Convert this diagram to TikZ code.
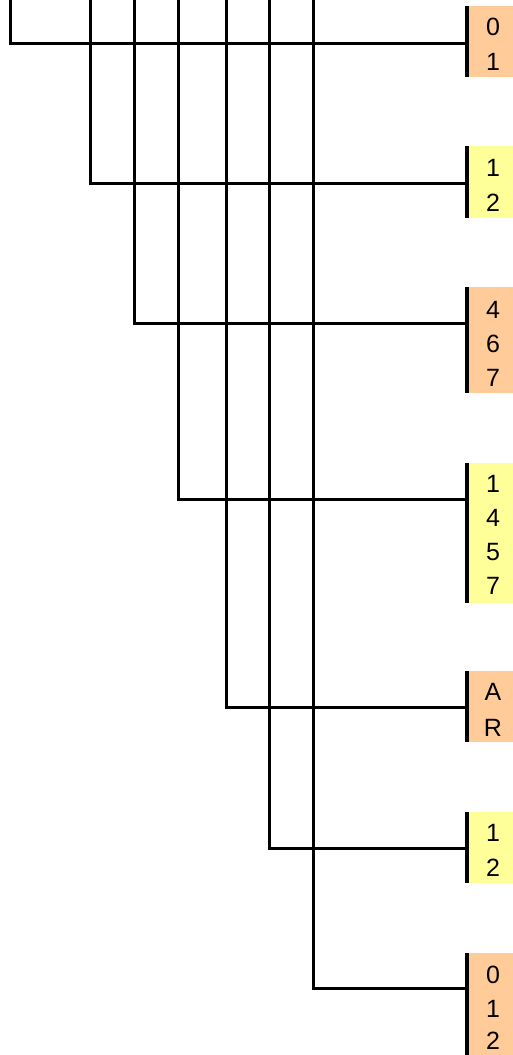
\documentclass[tikz,border=0pt]{standalone}
\usepackage{fontspec}
\setmainfont{Liberation Sans}
\definecolor{peach}{HTML}{FFCC99}
\definecolor{lemon}{HTML}{FFFF99}
\begin{document}
\begin{tikzpicture}[x=1pt,y=-1pt,
  wire/.style={line width=3pt,black},
  bar/.style={line width=3.6pt,black},
  boxo/.style={draw=none,fill=peach,inner sep=0pt,minimum width=52pt,anchor=north west},
  boxy/.style={draw=none,fill=lemon,inner sep=0pt,minimum width=52pt,anchor=north west},
  digit/.style={inner sep=0pt,font=\fontsize{25pt}{29pt}\selectfont,anchor=center}]
\useasboundingbox (0,0) rectangle (512,1055);
% boxes
\node[boxo,minimum height=71pt]  (b1) at (466.7,6)   {};
\node[boxy,minimum height=72pt]  (b2) at (466.7,146) {};
\node[boxo,minimum height=106pt] (b3) at (466.7,287) {};
\node[boxy,minimum height=140pt] (b4) at (466.7,463) {};
\node[boxo,minimum height=71pt]  (b5) at (466.7,671) {};
\node[boxy,minimum height=71pt]  (b6) at (466.7,812) {};
\node[boxo,minimum height=106pt] (b7) at (466.7,953) {};
% digits
\node[digit] (d11) at (493,27) {0};
\node[digit] (d12) at (493,62) {1};
\node[digit] (d21) at (493,168) {1};
\node[digit] (d22) at (493,203) {2};
\node[digit] (d31) at (493,310) {4};
\node[digit] (d32) at (493,344) {6};
\node[digit] (d33) at (493,378) {7};
\node[digit] (d41) at (493,484) {1};
\node[digit] (d42) at (493,518) {4};
\node[digit] (d43) at (493,552) {5};
\node[digit] (d44) at (493,586) {7};
\node[digit] (d51) at (493,692) {A};
\node[digit] (d52) at (493,728) {R};
\node[digit] (d61) at (493,833) {1};
\node[digit] (d62) at (493,868) {2};
\node[digit] (d71) at (493,975) {0};
\node[digit] (d72) at (493,1009) {1};
\node[digit] (d73) at (493,1041) {2};
% bars
\foreach \b in {b1,b2,b3,b4,b5,b6,b7}
  \draw[bar] (\b.north west) -- (\b.south west);
% junctions
\coordinate (j1) at (466.7,43);
\coordinate (j2) at (466.7,183);
\coordinate (j3) at (466.7,323);
\coordinate (j4) at (466.7,499);
\coordinate (j5) at (466.7,707);
\coordinate (j6) at (466.7,848);
\coordinate (j7) at (466.7,988);
% top ends of the vertical lines
\coordinate (t1) at (10.7,0);
\coordinate (t2) at (90.3,0);
\coordinate (t3) at (134.3,0);
\coordinate (t4) at (178.3,0);
\coordinate (t5) at (226.3,0);
\coordinate (t6) at (269.3,0);
\coordinate (t7) at (313.3,0);
% connectors
\draw[wire] (t1) |- (j1);
\draw[wire] (t2) |- (j2);
\draw[wire] (t3) |- (j3);
\draw[wire] (t4) |- (j4);
\draw[wire] (t5) |- (j5);
\draw[wire] (t6) |- (j6);
\draw[wire] (t7) |- (j7);
\end{tikzpicture}
\end{document}
